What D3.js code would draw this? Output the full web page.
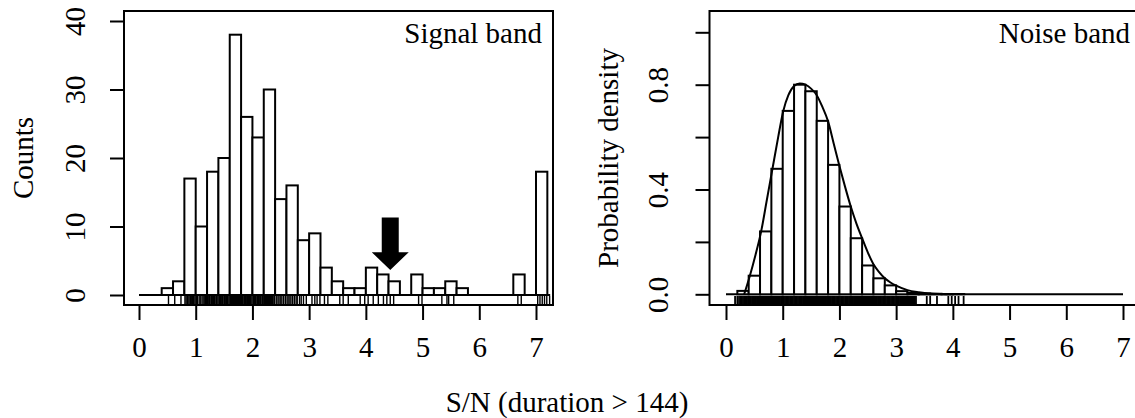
<!DOCTYPE html>
<html>
<head>
<meta charset="utf-8">
<script src="https://cdn.jsdelivr.net/npm/d3@7"></script>
<style>
  body { margin: 0; background: #fff; }
  svg { display: block; font-family: "Liberation Serif", "Times New Roman", serif; }
</style>
</head>
<body>
<div class="chart-container"></div>
<script>
// ---- data ----
// bins are 0.2 wide, the first one starts at 0
const binWidth = 0.2;

// Signal band: counts per bin (0 .. 7.2)
const signalCounts = [0, 0, 1, 2, 17, 10, 18, 20, 38, 26, 23, 30, 14, 16, 8, 9, 4, 2,
  1, 1, 4, 3, 2, 0, 3, 1, 1, 2, 1, 0, 0, 0, 0, 3, 0, 18];

// Signal band: rug values
const signalRug = [0.52, 0.63, 0.74,
  0.81, 0.83, 0.85, 0.86, 0.88, 0.9, 0.91, 0.93, 0.94, 0.96, 0.97, 0.99,
  1.01, 1.03, 1.06, 1.08, 1.11, 1.13, 1.15, 1.17, 1.19,
  1.21, 1.22, 1.24, 1.25, 1.27, 1.28, 1.3, 1.31, 1.33, 1.34, 1.36, 1.37, 1.39,
  1.41, 1.42, 1.44, 1.45, 1.47, 1.48, 1.5, 1.51, 1.53, 1.54, 1.56, 1.57, 1.59,
  1.61, 1.62, 1.63, 1.64, 1.65, 1.66, 1.67, 1.68, 1.69, 1.7, 1.71, 1.72, 1.73, 1.74, 1.75, 1.76, 1.77, 1.78, 1.79,
  1.81, 1.82, 1.83, 1.85, 1.86, 1.87, 1.88, 1.9, 1.91, 1.92, 1.93, 1.95, 1.96, 1.97, 1.99,
  2.01, 2.02, 2.04, 2.05, 2.06, 2.08, 2.09, 2.11, 2.12, 2.14, 2.15, 2.17, 2.18, 2.19,
  2.21, 2.22, 2.23, 2.25, 2.26, 2.27, 2.28, 2.3, 2.31, 2.32, 2.34, 2.35, 2.36, 2.38, 2.39,
  2.42, 2.45, 2.47, 2.5, 2.52, 2.55, 2.58,
  2.61, 2.63, 2.66, 2.68, 2.71, 2.74, 2.77, 2.79,
  2.83, 2.86, 2.9, 2.95,
  3.05, 3.1, 3.14, 3.19, 3.27, 3.33,
  3.54, 3.6, 3.69,
  3.9, 3.98, 4.04, 4.13, 4.22, 4.31, 4.37, 4.43, 4.49,
  4.93, 4.99, 5.34, 5.43, 5.46, 5.55,
  6.68, 6.74,
  7.03, 7.07, 7.11, 7.15, 7.19, 7.24];

// arrow marking the signal (x, top count, tip count)
const arrowX = 4.43;
const arrowTop = 11.3;
const arrowTip = 3.65;

// Noise band: probability density per bin (0 .. 4.2)
const noiseDensity = [0, 0.013, 0.071, 0.24, 0.479, 0.70, 0.80, 0.775, 0.662, 0.494,
  0.335, 0.214, 0.11, 0.061, 0.034, 0.012, 0.005, 0.003, 0.002, 0.001, 0.001];

// Noise band: smoothed density curve
const curveX = [0.32, 0.42, 0.52, 0.62, 0.72, 0.82, 0.92, 1.01, 1.1, 1.2, 1.3, 1.4, 1.5,
  1.6, 1.7, 1.8, 1.9, 2.0, 2.1, 2.2, 2.3, 2.4, 2.5, 2.6, 2.7, 2.8, 2.9, 3.0, 3.2, 3.4, 3.6, 3.8, 4.0];
const curveY = [0, 0.07, 0.15, 0.24, 0.36, 0.48, 0.6, 0.7, 0.76, 0.795, 0.805, 0.8, 0.785,
  0.76, 0.715, 0.66, 0.575, 0.49, 0.41, 0.335, 0.27, 0.214, 0.16, 0.115, 0.085, 0.061, 0.045,
  0.033, 0.016, 0.008, 0.003, 0.001, 0];

// Noise band: rug values
const noiseRug = [0.16, 0.2, 0.23, 0.26, 0.28, 0.3, 0.32, 0.34, 0.36, 0.37, 0.39, 0.41, 0.43,
  0.44, 0.46, 0.48, 0.5, 0.52, 0.53, 0.55, 0.57, 0.59, 0.61, 0.62, 0.64, 0.66, 0.68, 0.7, 0.71,
  0.73, 0.75, 0.77, 0.79, 0.8, 0.82, 0.84, 0.86, 0.88, 0.89, 0.91, 0.93, 0.95, 0.97, 0.98, 1.0,
  1.02, 1.04, 1.06, 1.07, 1.09, 1.11, 1.13, 1.15, 1.16, 1.18, 1.2, 1.22, 1.24, 1.25, 1.27, 1.29,
  1.31, 1.33, 1.34, 1.36, 1.38, 1.4, 1.42, 1.43, 1.45, 1.47, 1.49, 1.51, 1.52, 1.54, 1.56, 1.58,
  1.6, 1.61, 1.63, 1.65, 1.67, 1.69, 1.7, 1.72, 1.74, 1.76, 1.78, 1.79, 1.81, 1.83, 1.85, 1.87,
  1.88, 1.9, 1.92, 1.94, 1.96, 1.97, 1.99, 2.01, 2.03, 2.05, 2.06, 2.08, 2.1, 2.12, 2.14, 2.15,
  2.17, 2.19, 2.21, 2.23, 2.24, 2.26, 2.28, 2.3, 2.32, 2.33, 2.35, 2.37, 2.39, 2.41, 2.42, 2.44,
  2.46, 2.48, 2.5, 2.51, 2.53, 2.55, 2.57, 2.59, 2.6, 2.62, 2.64, 2.66, 2.68, 2.69, 2.71, 2.73,
  2.75, 2.77, 2.78, 2.8, 2.82, 2.84, 2.86, 2.87, 2.89, 2.91, 2.93, 2.95, 2.96, 2.98, 3.0, 3.02,
  3.04, 3.05, 3.07, 3.09, 3.11, 3.13, 3.14, 3.16, 3.18, 3.2, 3.22, 3.23, 3.25, 3.27, 3.29, 3.31,
  3.33, 3.35, 3.54, 3.6, 3.72, 3.92, 3.98, 4.04, 4.1, 4.19];

// tick values
const xTicks = [0, 1, 2, 3, 4, 5, 6, 7];
const signalYTicks = [0, 10, 20, 30, 40];
const noiseYTicks = [0, 0.2, 0.4, 0.6, 0.8, 1.0];
const noiseYLabels = [0, 0.4, 0.8];

// ---- layout ----
const width = 1135;
const height = 418;
const fontSize = 29;
const boxTop = 11;
const boxBottom = 305;
const tickLen = 14;
const rugLen = 9;

const svg = d3
  .select(".chart-container")
  .append("svg")
  .attr("width", width)
  .attr("height", height);

function drawPanel(opts) {
  const g = svg.append("g");

  // plot frame
  g.append("rect")
    .attr("x", opts.box[0])
    .attr("y", boxTop)
    .attr("width", opts.box[1] - opts.box[0])
    .attr("height", boxBottom - boxTop)
    .attr("fill", "none")
    .attr("stroke", "black")
    .attr("stroke-width", 2);

  // x axis: ticks below the frame
  const xAxis = g.append("g")
    .attr("transform", `translate(0,${boxBottom})`)
    .call(d3.axisBottom(opts.x).tickValues(xTicks).tickSize(15).tickFormat(d3.format("d")));
  xAxis.select(".domain").remove();
  xAxis.selectAll(".tick line").attr("stroke-width", 2);
  xAxis.selectAll(".tick text")
    .attr("y", 52)
    .attr("dy", null)
    .style("font-size", fontSize + "px")
    .style("font-family", "Liberation Serif")
    .attr("fill", "black");

  // y axis: rotated labels
  const yAxis = g.append("g")
    .attr("transform", `translate(${opts.box[0]},0)`)
    .call(d3.axisLeft(opts.y).tickValues(opts.yTicks).tickSize(tickLen).tickFormat(opts.yFormat));
  yAxis.select(".domain").remove();
  yAxis.selectAll(".tick line").attr("stroke-width", 2);
  yAxis.selectAll(".tick text")
    .attr("transform", "rotate(-90)")
    .attr("x", 0)
    .attr("y", -opts.yLabelOffset)
    .attr("dy", null)
    .attr("text-anchor", "middle")
    .style("font-size", fontSize + "px")
    .style("font-family", "Liberation Serif")
    .attr("fill", "black");

  // y title
  g.append("text")
    .attr("transform", `translate(${opts.yTitleX},158) rotate(-90)`)
    .attr("text-anchor", "middle")
    .style("font-size", fontSize + "px")
    .text(opts.yTitle);

  // panel label
  g.append("text")
    .attr("x", opts.labelX)
    .attr("y", 43)
    .attr("text-anchor", "end")
    .style("font-size", fontSize + "px")
    .text(opts.label);

  return g;
}

// ---------- Signal band ----------
const xSig = d3.scaleLinear().domain([0, 7]).range([139, 536]);
const ySig = d3.scaleLinear().domain([0, 40]).range([295, 21]);

const gSig = drawPanel({
  box: [124, 553], x: xSig, y: ySig,
  yTicks: signalYTicks, yFormat: d3.format("d"), yLabelOffset: 39,
  yTitle: "Counts", yTitleX: 33,
  label: "Signal band", labelX: 542
});

// baseline
gSig.append("line")
  .attr("x1", xSig(0)).attr("x2", xSig(7.25))
  .attr("y1", ySig(0)).attr("y2", ySig(0))
  .attr("stroke", "black").attr("stroke-width", 2);

// bars
gSig.selectAll(".bar")
  .data(signalCounts.map((c, i) => ({ x0: i * binWidth, count: c })).filter(d => d.count > 0))
  .enter()
  .append("rect")
  .attr("class", "bar")
  .attr("x", d => xSig(d.x0))
  .attr("width", d => xSig(d.x0 + binWidth) - xSig(d.x0))
  .attr("y", d => ySig(d.count))
  .attr("height", d => ySig(0) - ySig(d.count))
  .attr("fill", "white")
  .attr("stroke", "black")
  .attr("stroke-width", 2);

// rug
gSig.selectAll(".rug")
  .data(signalRug)
  .enter()
  .append("line")
  .attr("x1", d => xSig(d)).attr("x2", d => xSig(d))
  .attr("y1", boxBottom).attr("y2", boxBottom - rugLen)
  .attr("stroke", "black").attr("stroke-width", 1.4);

// arrow
const ax = xSig(arrowX);
const shaftHalf = 8.5;
const headHalf = 18.5;
const headBase = arrowTip + 2.6;
gSig.append("path")
  .attr("d", [
    [ax - shaftHalf, ySig(arrowTop)], [ax + shaftHalf, ySig(arrowTop)],
    [ax + shaftHalf, ySig(headBase)], [ax + headHalf, ySig(headBase)],
    [ax, ySig(arrowTip)],
    [ax - headHalf, ySig(headBase)], [ax - shaftHalf, ySig(headBase)]
  ].map((p, i) => (i ? "L" : "M") + p[0] + "," + p[1]).join("") + "Z")
  .attr("fill", "black");

// ---------- Noise band ----------
const xNoise = d3.scaleLinear().domain([0, 7]).range([726, 1123]);
const yNoise = d3.scaleLinear().domain([0, 1]).range([294.3, 32.3]);

const gNoise = drawPanel({
  box: [709.5, 1138], x: xNoise, y: yNoise,
  yTicks: noiseYTicks,
  yFormat: d => noiseYLabels.some(v => Math.abs(v - d) < 1e-9) ? d3.format(".1f")(d) : "",
  yLabelOffset: 41.5,
  yTitle: "Probability density", yTitleX: 618,
  label: "Noise band", labelX: 1130
});

gNoise.append("line")
  .attr("x1", xNoise(0)).attr("x2", xNoise(7))
  .attr("y1", yNoise(0)).attr("y2", yNoise(0))
  .attr("stroke", "black").attr("stroke-width", 2);

gNoise.selectAll(".bar")
  .data(noiseDensity.map((v, i) => ({ x0: i * binWidth, v: v })).filter(d => d.v > 0))
  .enter()
  .append("rect")
  .attr("class", "bar")
  .attr("x", d => xNoise(d.x0))
  .attr("width", d => xNoise(d.x0 + binWidth) - xNoise(d.x0))
  .attr("y", d => yNoise(d.v))
  .attr("height", d => yNoise(0) - yNoise(d.v))
  .attr("fill", "white")
  .attr("stroke", "black")
  .attr("stroke-width", 2);

gNoise.selectAll(".rug")
  .data(noiseRug)
  .enter()
  .append("line")
  .attr("x1", d => xNoise(d)).attr("x2", d => xNoise(d))
  .attr("y1", boxBottom).attr("y2", boxBottom - rugLen)
  .attr("stroke", "black").attr("stroke-width", 1.8);

// density curve
const densityLine = d3.line()
  .x(d => xNoise(d[0]))
  .y(d => yNoise(d[1]))
  .curve(d3.curveMonotoneX);

gNoise.append("path")
  .datum(curveX.map((x, i) => [x, curveY[i]]))
  .attr("d", densityLine)
  .attr("fill", "none")
  .attr("stroke", "black")
  .attr("stroke-width", 2);

// shared x title
svg.append("text")
  .attr("x", 567)
  .attr("y", 412)
  .attr("text-anchor", "middle")
  .style("font-size", fontSize + "px")
  .text("S/N (duration > 144)");
</script>
</body>
</html>
